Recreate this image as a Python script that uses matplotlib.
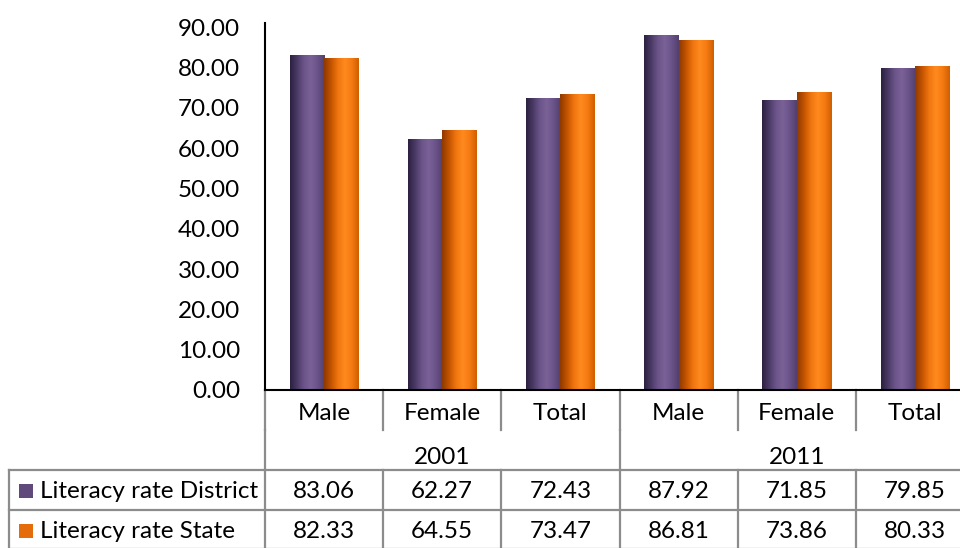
import numpy as np
import matplotlib
matplotlib.use("Agg")
import matplotlib.pyplot as plt
import matplotlib.transforms as mtransforms
from matplotlib.colors import LinearSegmentedColormap

plt.rcParams['font.family'] = ['Lato', 'DejaVu Sans']

# data
categories = ['Male', 'Female', 'Total', 'Male', 'Female', 'Total']
years = ['2001', '2011']
district = [83.06, 62.27, 72.43, 87.92, 71.85, 79.85]
state = [82.33, 64.55, 73.47, 86.81, 73.86, 80.33]
series_names = ['Literacy rate District', 'Literacy rate State']
yticks = [0, 10, 20, 30, 40, 50, 60, 70, 80, 90]

W, H = 960, 548
FS = 17.5
fig = plt.figure(figsize=(W / 100, H / 100), dpi=100)

def fx(px):
    return px / W

def fy(py):
    return 1 - py / H

# axes runs slightly past the right edge of the figure
ax = fig.add_axes([fx(265), fy(390), fx(974 - 265), (390 - 23) / H])

purple_cm = LinearSegmentedColormap.from_list(
    'pur', ['#2c2140', '#4a3a66', '#6c5589', '#7a6298', '#6a5388', '#54406e'])
orange_cm = LinearSegmentedColormap.from_list(
    'org', ['#8f3a00', '#c45400', '#f07510', '#ff8a1e', '#f57a12', '#d05f00'])

bw = 0.29
x = np.arange(len(categories))
grad = np.linspace(0, 1, 64).reshape(1, -1)

for vals, cm, off in [(district, purple_cm, -bw / 2), (state, orange_cm, bw / 2)]:
    bars = ax.bar(x + off, vals, width=bw, color='none', edgecolor='none')
    for b in bars:
        x0, y0 = b.get_x(), b.get_y()
        im = ax.imshow(grad, cmap=cm, aspect='auto', interpolation='bilinear',
                       extent=(x0, x0 + b.get_width(), y0, y0 + b.get_height()),
                       zorder=2)
        im.set_clip_path(b)

ax.set_xlim(-0.5, len(categories) - 0.5)
ax.set_ylim(0, 91)
ax.set_yticks(yticks)
ax.set_yticklabels(['%.2f' % v for v in yticks], fontsize=FS)
ax.tick_params(axis='y', length=0, pad=18)
ax.set_xticks([])
for s in ['top', 'right']:
    ax.spines[s].set_visible(False)
ax.spines['left'].set_linewidth(1.5)
ax.spines['bottom'].set_linewidth(1.5)

# data table under the axes
tr = mtransforms.blended_transform_factory(ax.transData, fig.transFigure)
gc = '#8c8c8c'
lw = 1.6
edges = np.arange(len(categories) + 1) - 0.5

# category row
for e in edges:
    ax.plot([e, e], [fy(390), fy(430)], color=gc, lw=lw, transform=tr, clip_on=False)
for i, c in enumerate(categories):
    ax.text(i, fy(414), c, transform=tr, ha='center', va='center', fontsize=FS)

# year row
for e in [edges[0], edges[3]]:
    ax.plot([e, e], [fy(430), fy(470)], color=gc, lw=lw, transform=tr, clip_on=False)
for k, yr in enumerate(years):
    ax.text(k * 3 + 1, fy(457), yr, transform=tr, ha='center', va='center', fontsize=FS)

# value rows
for py in [470, 510, 549]:
    fig.add_artist(plt.Line2D([fx(9), 1], [fy(py), fy(py)], color=gc, lw=lw))
fig.add_artist(plt.Line2D([fx(9), fx(9)], [fy(470), fy(549)], color=gc, lw=lw))
for e in edges:
    ax.plot([e, e], [fy(470), fy(549)], color=gc, lw=lw, transform=tr, clip_on=False)

key_colors = ['#604a7b', '#e46c0a']
for r, (name, vals, kc) in enumerate(zip(series_names, [district, state], key_colors)):
    yc = 491 + r * 40
    fig.add_artist(plt.Rectangle((fx(19), fy(yc + 7)), fx(14), 14 / H,
                                 facecolor=kc, edgecolor='none'))
    fig.text(fx(40), fy(yc), name, ha='left', va='center', fontsize=FS)
    for i, v in enumerate(vals):
        ax.text(i, fy(yc), '%.2f' % v, transform=tr, ha='center', va='center', fontsize=FS)

fig.savefig('out.png', dpi=100)
